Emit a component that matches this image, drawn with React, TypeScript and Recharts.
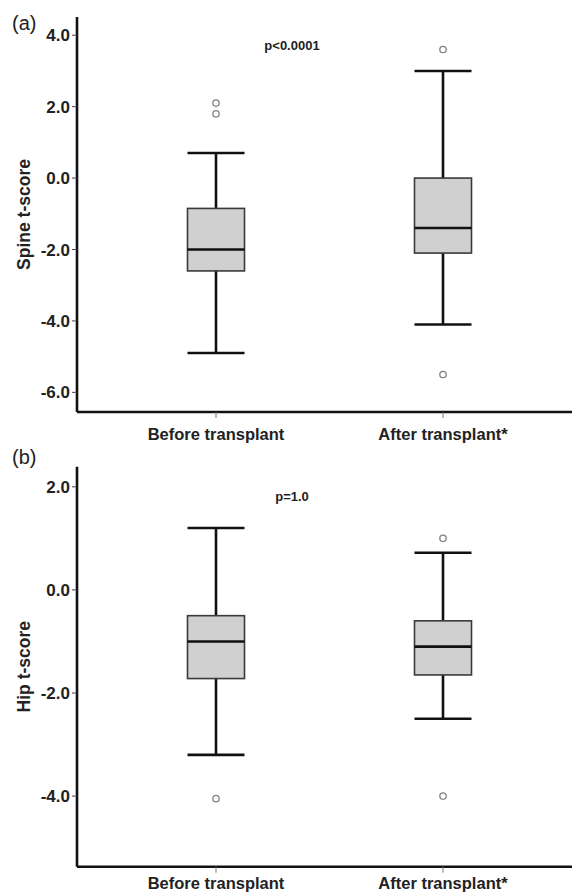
import React from "react";
import { ComposedChart, Bar, Line, XAxis, YAxis } from "recharts";

const categories = ["Before transplant", "After transplant*"];

// (a) spine t-score
const spineMin = [-4.9, -4.1];
const spineQ1 = [-2.6, -2.1];
const spineMedian = [-2.0, -1.4];
const spineQ3 = [-0.85, 0.0];
const spineMax = [0.7, 3.0];
const spineOutlierA = [2.1, 3.6];
const spineOutlierB = [1.8, -5.5];
const spineTicks = [-6, -4, -2, 0, 2, 4];

// (b) hip t-score
const hipMin = [-3.2, -2.5];
const hipQ1 = [-1.72, -1.65];
const hipMedian = [-1.0, -1.1];
const hipQ3 = [-0.5, -0.6];
const hipMax = [1.2, 0.72];
const hipOutlierA = [-4.05, 1.0];
const hipOutlierB = [null, -4.0];
const hipTicks = [-4, -2, 0, 2];

const FONT = '"Liberation Sans", Arial, sans-serif';
const BOX_W = 57;

function buildRows(min, q1, med, q3, max, outA, outB) {
  return categories.map((name, i) => ({
    name,
    whisker: [min[i], max[i]],
    box: [q1[i], q3[i]],
    median: med[i],
    outA: outA[i],
    outB: outB[i],
  }));
}

const spineData = buildRows(spineMin, spineQ1, spineMedian, spineQ3, spineMax, spineOutlierA, spineOutlierB);
const hipData = buildRows(hipMin, hipQ1, hipMedian, hipQ3, hipMax, hipOutlierA, hipOutlierB);

function WhiskerShape(props: any) {
  const { x, y, width, height } = props;
  if (y == null || height == null) return <g />;
  const cx = x + width / 2;
  return (
    <g stroke="#111" strokeWidth={2.6} fill="none">
      <line x1={cx} y1={y} x2={cx} y2={y + height} />
      <line x1={x} y1={y} x2={x + width} y2={y} />
      <line x1={x} y1={y + height} x2={x + width} y2={y + height} />
    </g>
  );
}

function BoxShape(props: any) {
  const { x, y, width, height } = props;
  if (y == null || height == null) return <g />;
  return <rect x={x} y={y} width={width} height={height} fill="#d0d0d0" stroke="#3a3a3a" strokeWidth={1.6} />;
}

function MedianDot(props: any) {
  const { cx, cy, index } = props;
  if (cx == null || cy == null) return <g key={`m-${index}`} />;
  return (
    <line
      key={`m-${index}`}
      x1={cx - BOX_W / 2}
      x2={cx + BOX_W / 2}
      y1={cy}
      y2={cy}
      stroke="#111"
      strokeWidth={2.6}
    />
  );
}

function VerticalLabel(props: any) {
  const { viewBox, value } = props;
  const cy = viewBox.y + viewBox.height / 2;
  const cx = 24;
  return (
    <text
      x={cx}
      y={cy}
      transform={`rotate(-90 ${cx} ${cy})`}
      textAnchor="middle"
      dominantBaseline="central"
      fontFamily={FONT}
      fontWeight="bold"
      fontSize={17.5}
      fill="#222"
    >
      {value}
    </text>
  );
}

function BoxPanel({ data, domain, ticks, yLabel, height, top, xHeight, tickMargin }) {
  const pad = { left: 25.5, right: 15.5 };
  return (
    <ComposedChart width={572} height={height} data={data} margin={{ top, right: 0, left: 0, bottom: 0 }}>
      <XAxis
        xAxisId="main"
        dataKey="name"
        padding={pad}
        height={xHeight}
        axisLine={{ stroke: "#111", strokeWidth: 2.6 }}
        tickLine={{ stroke: "#777" }}
        tickSize={6}
        tickMargin={tickMargin}
        tick={{ fontSize: 16.5, fontWeight: "bold", fill: "#222", fontFamily: FONT }}
        interval={0}
      />
      <XAxis xAxisId="w" dataKey="name" padding={pad} hide />
      <YAxis
        type="number"
        domain={domain}
        ticks={ticks}
        allowDataOverflow
        width={77}
        tickFormatter={(v) => v.toFixed(1)}
        axisLine={{ stroke: "#111", strokeWidth: 2.6 }}
        tickLine={{ stroke: "#444" }}
        tickSize={5}
        tickMargin={2}
        tick={{ fontSize: 17, fontWeight: "bold", fill: "#222", fontFamily: FONT }}
        label={<VerticalLabel value={yLabel} />}
      />
      <Bar xAxisId="w" dataKey="whisker" barSize={BOX_W} shape={<WhiskerShape />} isAnimationActive={false} />
      <Bar xAxisId="main" dataKey="box" barSize={BOX_W} shape={<BoxShape />} isAnimationActive={false} />
      <Line
        xAxisId="main"
        dataKey="median"
        stroke="none"
        dot={MedianDot}
        activeDot={false}
        isAnimationActive={false}
      />
      <Line
        xAxisId="main"
        dataKey="outA"
        stroke="none"
        dot={{ r: 3.2, fill: "#fff", stroke: "#808080", strokeWidth: 1.3 }}
        activeDot={false}
        isAnimationActive={false}
      />
      <Line
        xAxisId="main"
        dataKey="outB"
        stroke="none"
        dot={{ r: 3.2, fill: "#fff", stroke: "#808080", strokeWidth: 1.3 }}
        activeDot={false}
        isAnimationActive={false}
      />
    </ComposedChart>
  );
}

const panelTag: React.CSSProperties = {
  position: "absolute",
  left: 12,
  fontFamily: FONT,
  fontSize: 20,
  color: "#222",
  lineHeight: 1,
};

const pText: React.CSSProperties = {
  position: "absolute",
  left: 292,
  transform: "translate(-50%, -50%)",
  fontFamily: FONT,
  fontSize: 13,
  fontWeight: "bold",
  color: "#222",
  whiteSpace: "nowrap",
};

export default function App() {
  return (
    <div style={{ position: "absolute", left: 0, top: 0, width: 572, height: 895, background: "#fff" }}>
      <div style={{ position: "absolute", left: 0, top: 0 }}>
        <BoxPanel
          data={spineData}
          domain={[-6.55, 4.51]}
          ticks={spineTicks}
          yLabel="Spine t-score"
          height={450}
          top={17}
          xHeight={38}
          tickMargin={10}
        />
      </div>
      <div style={{ position: "absolute", left: 0, top: 450 }}>
        <BoxPanel
          data={hipData}
          domain={[-5.37, 2.39]}
          ticks={hipTicks}
          yLabel="Hip t-score"
          height={445}
          top={16.7}
          xHeight={28.3}
          tickMargin={5}
        />
      </div>
      <div style={{ ...panelTag, top: 13 }}>(a)</div>
      <div style={{ ...panelTag, top: 447 }}>(b)</div>
      <div style={{ ...pText, top: 44.5 }}>p&lt;0.0001</div>
      <div style={{ ...pText, top: 496 }}>p=1.0</div>
    </div>
  );
}
